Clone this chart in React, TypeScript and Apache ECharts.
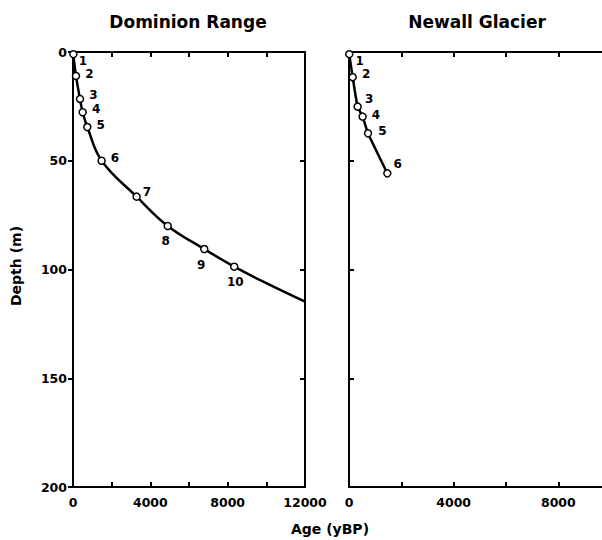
import React, { useEffect, useRef } from "react";
import * as echarts from "echarts";

// Dominion Range: sample points (age yBP, depth m)
const domAge = [20, 155, 362, 500, 740, 1480, 3290, 4900, 6790, 8340];
const domDepth = [1, 11, 21.6, 27.7, 34.5, 50, 66.5, 80, 90.6, 98.7];
const domLabels = ["1", "2", "3", "4", "5", "6", "7", "8", "9", "10"];
// Dominion Range fitted curve
const domCurveAge = [0, 155, 362, 500, 740, 1480, 3290, 4900, 6790, 8340, 10000, 12000];
const domCurveDepth = [0, 11, 21.6, 27.7, 34.5, 50, 66.5, 80, 90.6, 98.7, 106.3, 114.8];

// Newall Glacier: sample points (age yBP, depth m)
const newAge = [10, 140, 330, 520, 727, 1465];
const newDepth = [1, 11.6, 25.1, 29.7, 37.4, 55.8];
const newLabels = ["1", "2", "3", "4", "5", "6"];

const depthTicks = [0, 50, 100, 150, 200];
const domAgeTickLabels = [0, 4000, 8000, 12000];
const newAgeTickLabels = [0, 4000, 8000];

// label placement (style, not data)
const domLabelPlace: [string, number, number][] = [
  ["right", -4, 7],
  ["right", 0, -2],
  ["right", 0, -4],
  ["right", 0, -3],
  ["right", 0, -2],
  ["right", 0, -3],
  ["right", -3, -5],
  ["bottom", -2, 0],
  ["bottom", -3, 1],
  ["bottom", 1, 0],
];
const newLabelPlace: [string, number, number][] = [
  ["right", -3, 7],
  ["right", 0, -3],
  ["right", -2, -8],
  ["right", 0, -2],
  ["right", 1, -2],
  ["right", -3, -9],
];

const FONT = "DejaVu Sans";

export default function App() {
  const ref = useRef<HTMLDivElement>(null);
  useEffect(() => {
    if (!ref.current) return;
    const chart = echarts.init(ref.current, null, { renderer: "svg" });

    const lineStyle = { color: "#000", width: 2 };
    const mkX = (grid: number, pos: "top" | "bottom", labels: number[] | null) => ({
      type: "value",
      gridIndex: grid,
      position: pos,
      min: 0,
      max: 12000,
      interval: 2000,
      axisLine: { show: true, onZero: false, lineStyle },
      axisTick: { show: true, inside: true, length: 5, lineStyle: { color: "#000", width: 2 } },
      axisLabel: labels
        ? {
            show: true,
            margin: 9,
            color: "#000",
            fontFamily: FONT,
            fontWeight: "bold",
            fontSize: 12.5,
            formatter: (v: number) => (labels.includes(v) ? String(v) : ""),
          }
        : { show: false },
      splitLine: { show: false },
    });
    const mkY = (grid: number, pos: "left" | "right", labels: boolean, inside: boolean) => ({
      type: "value",
      gridIndex: grid,
      position: pos,
      inverse: true,
      min: 0,
      max: 200,
      interval: 50,
      axisLine: { show: true, onZero: false, lineStyle },
      axisTick: { show: true, inside, length: 5, lineStyle: { color: "#000", width: 2 } },
      axisLabel: labels
        ? {
            show: true,
            margin: 6,
            color: "#000",
            fontFamily: FONT,
            fontWeight: "bold",
            fontSize: 12.5,
            formatter: (v: number) => (depthTicks.includes(v) ? String(v) : ""),
          }
        : { show: false },
      splitLine: { show: false },
    });

    const pts = (
      ages: number[],
      depths: number[],
      labels: string[],
      place: [string, number, number][]
    ) =>
      ages.map((a, i) => ({
        value: [a, depths[i]],
        label: {
          show: true,
          formatter: labels[i],
          position: place[i][0],
          offset: [place[i][1], place[i][2]],
          distance: 5,
          color: "#000",
          fontFamily: FONT,
          fontWeight: "bold",
          fontSize: 12,
        },
      }));

    const pointStyle = { color: "#fff", borderColor: "#000", borderWidth: 1.5, opacity: 1 };

    chart.setOption({
      animation: false,
      backgroundColor: "#fff",
      grid: [
        { left: 73, top: 52, width: 232, height: 435 },
        { left: 349, top: 52, width: 314, height: 435 },
      ],
      xAxis: [
        mkX(0, "bottom", domAgeTickLabels),
        mkX(0, "top", null),
        mkX(1, "bottom", newAgeTickLabels),
        mkX(1, "top", null),
      ],
      yAxis: [
        mkY(0, "left", true, false),
        mkY(0, "right", false, true),
        mkY(1, "left", false, true),
        mkY(1, "right", false, true),
      ],
      series: [
        {
          type: "line",
          xAxisIndex: 0,
          yAxisIndex: 0,
          data: domCurveAge.map((a, i) => [a, domCurveDepth[i]]),
          smooth: 0.4,
          showSymbol: false,
          lineStyle: { color: "#000", width: 2.5 },
          z: 3,
        },
        {
          type: "scatter",
          xAxisIndex: 0,
          yAxisIndex: 0,
          data: pts(domAge, domDepth, domLabels, domLabelPlace),
          symbol: "circle",
          symbolSize: 7,
          itemStyle: pointStyle,
          z: 4,
        },
        {
          type: "line",
          xAxisIndex: 2,
          yAxisIndex: 2,
          data: newAge.map((a, i) => [a, newDepth[i]]),
          smooth: 0.2,
          showSymbol: false,
          lineStyle: { color: "#000", width: 2.5 },
          z: 3,
        },
        {
          type: "scatter",
          xAxisIndex: 2,
          yAxisIndex: 2,
          data: pts(newAge, newDepth, newLabels, newLabelPlace),
          symbol: "circle",
          symbolSize: 7,
          itemStyle: pointStyle,
          z: 4,
        },
      ],
      graphic: [
        {
          type: "text",
          x: 188,
          y: 22,
          style: {
            text: "Dominion Range",
            fill: "#000",
            font: `bold 17px "${FONT}"`,
            align: "center",
            verticalAlign: "middle",
          },
        },
        {
          type: "text",
          x: 477,
          y: 22,
          style: {
            text: "Newall Glacier",
            fill: "#000",
            font: `bold 17px "${FONT}"`,
            align: "center",
            verticalAlign: "middle",
          },
        },
        {
          type: "text",
          x: 16,
          y: 266,
          rotation: Math.PI / 2,
          style: {
            text: "Depth (m)",
            fill: "#000",
            font: `bold 14px "${FONT}"`,
            align: "center",
            verticalAlign: "middle",
          },
        },
        {
          type: "text",
          x: 330,
          y: 529,
          style: {
            text: "Age (yBP)",
            fill: "#000",
            font: `bold 14px "${FONT}"`,
            align: "center",
            verticalAlign: "middle",
          },
        },
      ],
    });
    return () => chart.dispose();
  }, []);

  return (
    <div
      style={{
        position: "absolute",
        left: 0,
        top: 0,
        width: 602,
        height: 540,
        overflow: "hidden",
        background: "#fff",
      }}
    >
      <div ref={ref} style={{ width: 680, height: 540 }} />
    </div>
  );
}
